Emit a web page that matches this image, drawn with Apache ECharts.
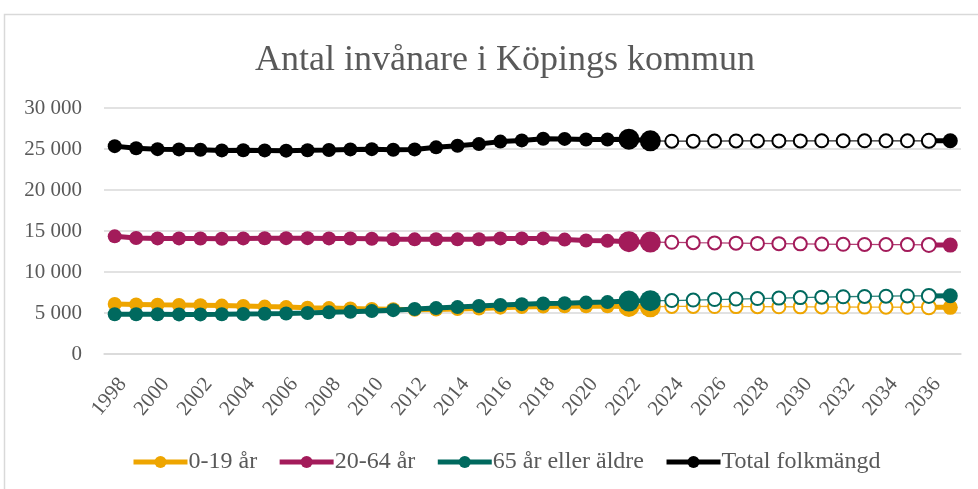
<!DOCTYPE html>
<html>
<head>
<meta charset="utf-8">
<script src="https://cdn.jsdelivr.net/npm/echarts@6/dist/echarts.min.js"></script>
<style>
html,body{margin:0;padding:0;background:#fff;}
#chart{width:978px;height:489px;}
</style>
</head>
<body>
<div id="chart"></div>
<script>
// Categories: years
const years = [];
for (let y = 1998; y <= 2037; y++) years.push(String(y));

// 0-19 år
const age0_19 = [6100,6050,6000,5980,5950,5900,5850,5780,5720,5650,5600,5550,5500,5450,5400,5420,5480,5550,5650,5720,5780,5820,5830,5820,5800,5760,
                 5800,5800,5790,5780,5770,5760,5750,5740,5730,5720,5710,5700,5700,5690];
// 20-64 år
const age20_64 = [14350,14150,14100,14100,14080,14050,14100,14120,14130,14130,14100,14080,14050,14000,13980,14000,13980,14000,14100,14100,14100,13950,13850,13800,13700,13650,
                  13620,13580,13550,13520,13490,13460,13430,13400,13380,13360,13350,13340,13300,13280];
// 65 år eller äldre
const age65 = [4850,4850,4840,4830,4830,4840,4870,4900,4940,5000,5080,5150,5230,5350,5480,5600,5720,5850,5970,6080,6150,6200,6270,6330,6450,6500,
               6520,6580,6640,6700,6760,6820,6880,6930,6980,7020,7050,7080,7080,7100];
// Total folkmängd
const total = [25350,25100,24980,24950,24900,24830,24850,24830,24800,24850,24880,24950,24980,24900,24950,25200,25400,25600,25900,26050,26250,26230,26150,26150,26200,26000,
               25950,25960,25970,25980,25980,25990,25990,26000,26000,26000,26000,26000,26000,26000];

const seriesNames = ['0-19 år', '20-64 år', '65 år eller äldre', 'Total folkmängd'];
const seriesData = [age0_19, age20_64, age65, total];
const colors = ['#EEA500', '#A31B5A', '#00695E', '#000000'];

const lastHist = years.indexOf('2023');
const bigFrom = years.indexOf('2022');
const projEnd = years.indexOf('2036');

const font = 'Liberation Serif';
const series = [];
seriesNames.forEach((name, k) => {
  const vals = seriesData[k];
  const c = colors[k];
  // historical
  series.push({
    name, type: 'line', color: c, showAllSymbol: true, symbol: 'circle', symbolSize: 14,
    lineStyle: { width: 5, color: c }, itemStyle: { color: c },
    z: 2 + k,
    data: vals.map((v, i) => i > lastHist ? null : (i >= bigFrom ? { value: v, symbolSize: 21 } : v))
  });
  // projection (thin, open markers)
  series.push({
    name, type: 'line', color: c, showAllSymbol: true, symbol: 'emptyCircle', symbolSize: 13,
    lineStyle: { width: 1.3, color: c, opacity: 0.85 }, itemStyle: { color: c, borderWidth: 1.2 },
    z: 1 + k,
    data: vals.map((v, i) => (i < lastHist || i > projEnd) ? null : ((i === lastHist || i === projEnd) ? { value: v, symbol: 'none' } : v))
  });
  // last segment
  series.push({
    name, type: 'line', color: c, showAllSymbol: true, symbol: 'circle', symbolSize: 15,
    lineStyle: { width: 5, color: c }, itemStyle: { color: c },
    z: 2 + k,
    data: vals.map((v, i) => i < projEnd ? null : (i === projEnd ? { value: v, symbol: 'emptyCircle', symbolSize: 14, itemStyle: { borderWidth: 3, color: c } } : v))
  });
});

const chart = echarts.init(document.getElementById('chart'), null, { renderer: 'canvas' });
chart.setOption({
  animation: false,
  backgroundColor: '#fff',
  title: {
    text: 'Antal invånare i Köpings kommun', left: 500, textAlign: 'center', top: 38,
    textStyle: { fontFamily: font, fontSize: 36, fontWeight: 'normal', color: '#595959' }
  },
  graphic: [{
    type: 'rect', shape: { x: 4.5, y: 14.5, width: 1000, height: 600 },
    style: { fill: 'none', stroke: '#d9d9d9', lineWidth: 1.5 }, silent: true
  }],
  legend: {
    data: seriesNames, bottom: 10, left: 126, itemWidth: 54, itemHeight: 15, itemGap: 20,
    lineStyle: { width: 5 },
    textStyle: { fontFamily: font, fontSize: 24, color: '#595959', padding: [0, 0, 0, -4] }
  },
  grid: { left: 104, right: 17, top: 108, bottom: 135 },
  xAxis: {
    type: 'category', data: years, boundaryGap: true,
    axisLine: { lineStyle: { color: '#d9d9d9', width: 1.5 } },
    axisTick: { show: false },
    axisLabel: { interval: 1, rotate: 50, margin: 20, verticalAlign: 'top', fontFamily: font, fontSize: 21, color: '#595959' }
  },
  yAxis: {
    type: 'value', min: 0, max: 30000, interval: 5000,
    axisLine: { show: false }, axisTick: { show: false },
    splitLine: { lineStyle: { color: '#d9d9d9', width: 1.5 } },
    axisLabel: {
      margin: 22, fontFamily: font, fontSize: 21, color: '#595959',
      formatter: v => String(v).replace(/\B(?=(\d{3})+(?!\d))/g, ' ')
    }
  },
  series
});
</script>
</body>
</html>
